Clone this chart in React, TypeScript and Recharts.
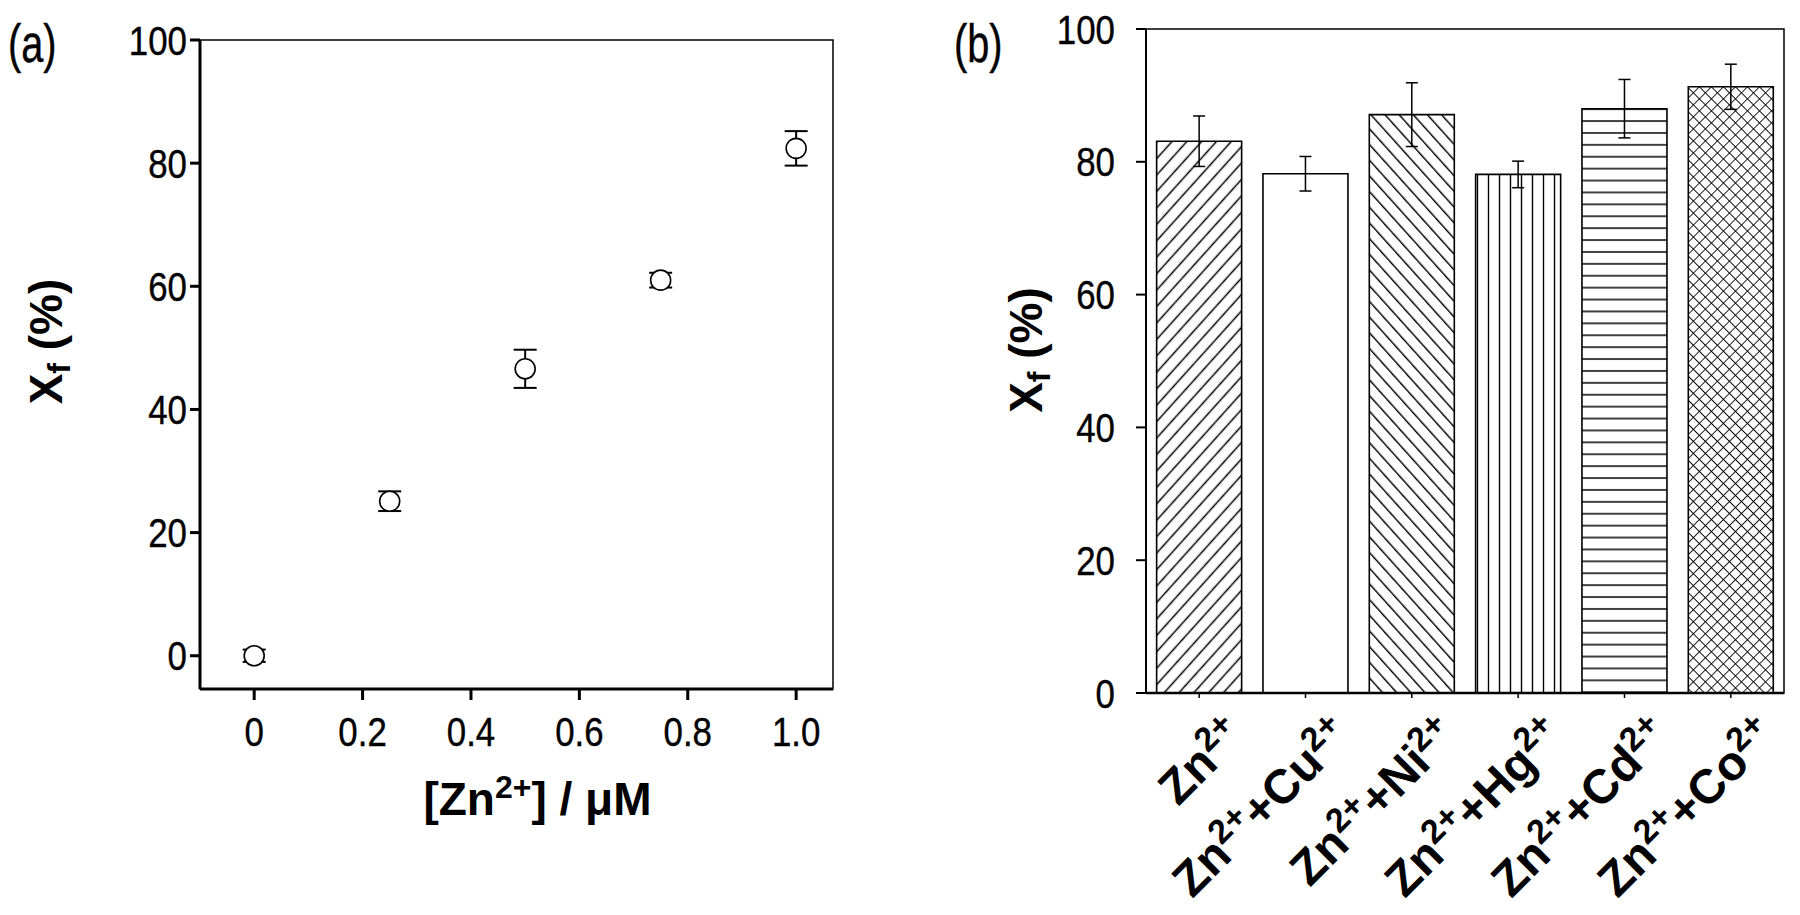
import React from "react";
import {
  ScatterChart,
  Scatter,
  BarChart,
  Bar,
  XAxis,
  YAxis,
  ErrorBar,
  ReferenceArea,
  Cell,
  Label,
} from "recharts";

const FONT = "'Liberation Sans', Arial, Helvetica, sans-serif";

// panel (a): Xf vs [Zn2+]
const concentrations = [0, 0.25, 0.5, 0.75, 1.0];
const xfValues = [0, 25.1, 46.6, 61.0, 82.4];
const xfErrors = [1.0, 1.6, 3.1, 1.2, 2.8];
const concTicks = [0, 0.2, 0.4, 0.6, 0.8, 1.0];
const xfTicks = [0, 20, 40, 60, 80, 100];

// panel (b): selectivity
const ionLabels = ["Zn2+", "Zn2++Cu2+", "Zn2++Ni2+", "Zn2++Hg2+", "Zn2++Cd2+", "Zn2++Co2+"];
const ionValues = [83.1, 78.2, 87.1, 78.1, 88.0, 91.3];
const ionErrors = [3.8, 2.6, 4.8, 2.0, 4.4, 3.4];

const scatterData = concentrations.map((c, i) => ({ x: c, y: xfValues[i], err: xfErrors[i] }));
const barData = ionLabels.map((ion, i) => ({ ion, xf: ionValues[i], err: ionErrors[i] }));

const barFills = [
  "url(#hatchFwd)",
  "#fff",
  "url(#hatchBack)",
  "url(#hatchVert)",
  "url(#hatchHoriz)",
  "url(#hatchCross)",
];

// split "Zn2++Cu2+" into normal / superscript runs
const chem = (s: string, raise: number, supSize: number) =>
  s
    .split(/(2\+)/)
    .filter(Boolean)
    .map((p, i) =>
      p === "2+" ? (
        <tspan key={i} dy={-raise} fontSize={supSize}>
          2+
        </tspan>
      ) : (
        <tspan key={i} dy={i > 0 ? raise : 0}>
          {p}
        </tspan>
      )
    );

// the original uses a condensed face, so squeeze regular text a bit
const NarrowText = ({ x, y, anchor, dy, size, sx = 0.85, children }: any) => (
  <g transform={`translate(${x},${y}) scale(${sx},1)`}>
    <text
      textAnchor={anchor}
      dy={dy}
      fontFamily={FONT}
      fontSize={size}
      fill="#000"
      stroke="#000"
      strokeWidth={0.4}
    >
      {children}
    </text>
  </g>
);

const YTick = (props: any) => (
  <NarrowText x={props.x} y={props.y} anchor="end" dy="0.355em" size={41}>
    {props.payload.value}
  </NarrowText>
);

const ConcTick = (props: any) => {
  const v = props.payload.value as number;
  return (
    <NarrowText x={props.x} y={props.y} anchor="middle" dy="0.71em" size={41}>
      {v === 0 ? "0" : v.toFixed(1)}
    </NarrowText>
  );
};

const IonTick = (props: any) => {
  const { x, y, payload } = props;
  return (
    <g transform={`translate(${x + 48},${y + 40}) rotate(-45)`}>
      <text textAnchor="end" fontFamily={FONT} fontWeight="bold" fontSize={48} fill="#000">
        {chem(payload.value, 17, 34)}
      </text>
    </g>
  );
};

const XfTitle = (cx: number, cy: number) => (
  <text
    x={cx}
    y={cy}
    transform={`rotate(-90, ${cx}, ${cy})`}
    textAnchor="middle"
    fontFamily={FONT}
    fontWeight="bold"
    fontSize={46}
    fill="#000"
  >
    X
    <tspan dy={8} fontSize={32}>
      f
    </tspan>
    <tspan dy={-8}> (%)</tspan>
  </text>
);

const App = () => {
  return (
    <div style={{ position: "relative", width: 1792, height: 907 }}>
      <div style={{ position: "absolute", left: 0, top: 0 }}>
        <ScatterChart width={900} height={907} margin={{ top: 32, right: 75, left: 0, bottom: 7 }}>
          <XAxis
            type="number"
            dataKey="x"
            domain={[-0.1, 1.068]}
            ticks={concTicks}
            allowDataOverflow
            height={219}
            tickSize={11}
            tickMargin={17}
            tick={<ConcTick />}
            axisLine={{ stroke: "#000", strokeWidth: 3 }}
            tickLine={{ stroke: "#000", strokeWidth: 3 }}
          >
            <Label
              content={(p: any) => {
                const vb = p.viewBox;
                return (
                  <text
                    x={vb.x + vb.width / 2 + 21}
                    y={vb.y + 126}
                    textAnchor="middle"
                    fontFamily={FONT}
                    fontWeight="bold"
                    fontSize={46}
                    fill="#000"
                  >
                    {"[Zn"}
                    <tspan dy={-17} fontSize={32}>
                      2+
                    </tspan>
                    <tspan dy={17}>{"] / μM"}</tspan>
                  </text>
                );
              }}
            />
          </XAxis>
          <YAxis
            type="number"
            dataKey="y"
            domain={[-5.4, 100]}
            ticks={xfTicks}
            allowDataOverflow
            width={192}
            tickSize={10}
            tickMargin={3}
            tick={<YTick />}
            axisLine={{ stroke: "#000", strokeWidth: 3 }}
            tickLine={{ stroke: "#000", strokeWidth: 3 }}
          >
            <Label
              content={(p: any) => {
                const vb = p.viewBox;
                return (
                  <g>
                    <NarrowText x={0} y={54} anchor="start" dy={0} size={53} sx={0.75}>
                      (a)
                    </NarrowText>
                    {XfTitle(vb.x + 54, vb.y + vb.height / 2 - 23)}
                  </g>
                );
              }}
            />
          </YAxis>
          <ReferenceArea y1={-5.4} y2={100} fill="none" stroke="#000" strokeWidth={1.5} />
          <Scatter data={scatterData} isAnimationActive={false} shape={() => <g />}>
            <ErrorBar dataKey="err" direction="y" width={11.5} stroke="#000" strokeWidth={2} />
          </Scatter>
          <Scatter
            data={scatterData}
            isAnimationActive={false}
            shape={(p: any) => (
              <circle cx={p.cx} cy={p.cy} r={10} fill="#fff" stroke="#000" strokeWidth={1.6} />
            )}
          />
        </ScatterChart>
      </div>

      <div style={{ position: "absolute", left: 892, top: 0 }}>
        <BarChart
          width={900}
          height={907}
          data={barData}
          margin={{ top: 21, right: 16, left: 0, bottom: 7 }}
          barCategoryGap="10%"
        >
          <defs>
            <pattern id="hatchFwd" patternUnits="userSpaceOnUse" width={40} height={11} patternTransform="rotate(-48)">
              <line x1={0} y1={5.5} x2={40} y2={5.5} stroke="#000" strokeWidth={1.4} />
            </pattern>
            <pattern id="hatchBack" patternUnits="userSpaceOnUse" width={40} height={10.5} patternTransform="rotate(48)">
              <line x1={0} y1={5} x2={40} y2={5} stroke="#000" strokeWidth={1.4} />
            </pattern>
            <pattern id="hatchVert" patternUnits="userSpaceOnUse" width={11} height={40}>
              <line x1={5.5} y1={0} x2={5.5} y2={40} stroke="#000" strokeWidth={1.4} />
            </pattern>
            <pattern id="hatchHoriz" patternUnits="userSpaceOnUse" width={40} height={11.9}>
              <line x1={0} y1={6} x2={40} y2={6} stroke="#000" strokeWidth={1.6} />
            </pattern>
            <pattern id="hatchCross" patternUnits="userSpaceOnUse" width={8.5} height={8.5} patternTransform="rotate(45)">
              <path d="M0,0 H8.5 M0,0 V8.5" stroke="#000" strokeWidth={1.7} fill="none" />
            </pattern>
          </defs>
          <XAxis
            dataKey="ion"
            height={215}
            interval={0}
            tickSize={5}
            tickMargin={0}
            tick={<IonTick />}
            axisLine={{ stroke: "#000", strokeWidth: 2.5 }}
            tickLine={{ stroke: "#000", strokeWidth: 1.5 }}
          />
          <YAxis
            domain={[0, 100]}
            ticks={xfTicks}
            allowDataOverflow
            width={246}
            tickSize={10}
            tickMargin={21}
            tick={<YTick />}
            axisLine={{ stroke: "#000", strokeWidth: 2 }}
            tickLine={{ stroke: "#000", strokeWidth: 2 }}
          >
            <Label
              content={(p: any) => {
                const vb = p.viewBox;
                return (
                  <g>
                    <NarrowText x={54} y={54} anchor="start" dy={0} size={53} sx={0.75}>
                      (b)
                    </NarrowText>
                    {XfTitle(vb.x + 142, vb.y + vb.height / 2 - 11)}
                  </g>
                );
              }}
            />
          </YAxis>
          <ReferenceArea y1={0} y2={100} fill="none" stroke="#000" strokeWidth={1.5} />
          <Bar dataKey="xf" stroke="#000" strokeWidth={1.6} isAnimationActive={false}>
            {barData.map((d, i) => (
              <Cell key={d.ion} fill={barFills[i]} />
            ))}
            <ErrorBar dataKey="err" width={6} stroke="#000" strokeWidth={1.5} />
          </Bar>
        </BarChart>
      </div>
    </div>
  );
};

export default App;
